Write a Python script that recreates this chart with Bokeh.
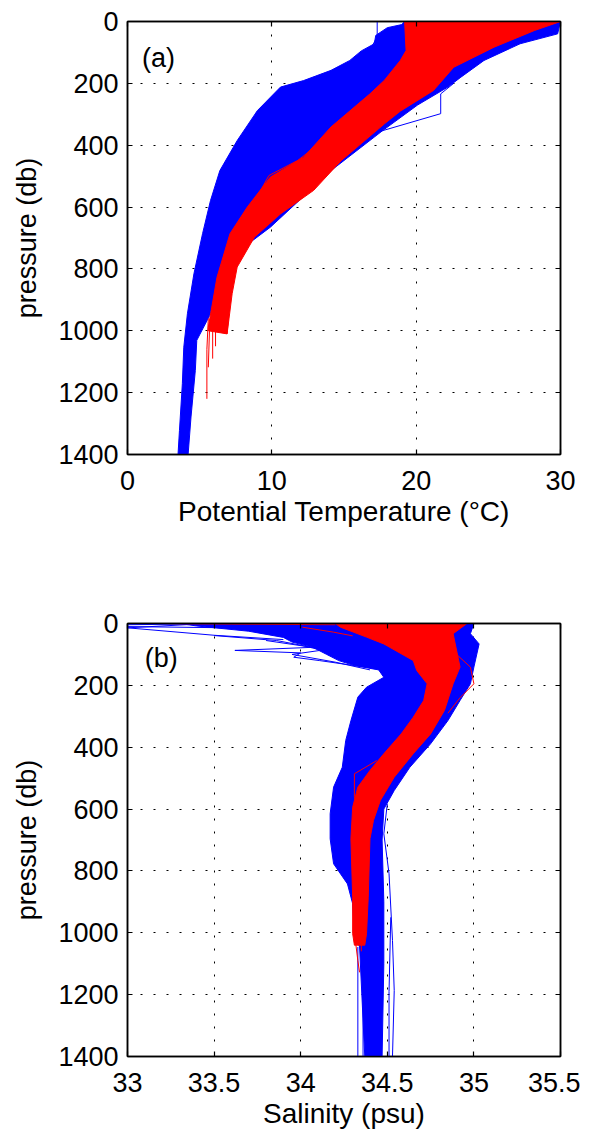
from bokeh.embed import file_html
from bokeh.resources import INLINE
from bokeh.layouts import column
from bokeh.models import Range1d, FixedTicker, LinearAxis, Label, CustomJSTickFormatter
from bokeh.plotting import figure

BLUE = "#0000ff"
RED = "#ff0000"
FONT = "Liberation Sans"

pressure_ticks = [0, 200, 400, 600, 800, 1000, 1200, 1400]
temp_ticks = [0, 10, 20, 30]
salt_ticks = [33, 33.5, 34, 34.5, 35, 35.5]

# ---- panel (a): potential temperature, envelopes of the profile bundles ----
blue_a_cold_t = [19.2, 19.0, 18.0, 17.2, 17.1, 16.2, 15.4, 14.1, 12.2, 10.6, 9.0, 7.6, 6.4, 5.75, 5.2, 4.6, 4.15, 3.9, 3.8, 3.6, 3.5]
blue_a_cold_p = [0, 10, 20, 45, 72, 95, 126, 158, 191, 212, 288, 385, 482, 579, 686, 816, 945, 1053, 1171, 1322, 1400]
blue_a_warm_t = [30.0, 29.8, 27.2, 24.7, 23.1, 22.2, 20.1, 17.7, 15.9, 14.1, 12.4, 9.9, 7.2, 6.3, 5.7, 4.8, 4.7, 4.4, 4.2]
blue_a_warm_p = [0, 40, 72, 126, 180, 212, 270, 352, 417, 482, 557, 665, 760, 850, 950, 1031, 1128, 1279, 1400]

red_a_cold_t = [19.2, 19.3, 18.9, 17.8, 16.8, 14.1, 12.2, 9.9, 8.3, 7.1, 6.2, 5.6, 5.6]
red_a_cold_p = [0, 94, 126, 190, 234, 341, 439, 503, 600, 686, 827, 988, 1000]
red_a_warm_t = [30.0, 28.2, 25.4, 22.6, 21.2, 18.9, 17.8, 14.8, 12.9, 10.6, 8.8, 7.6, 7.25, 6.9]
red_a_warm_p = [0, 29, 83, 148, 223, 290, 331, 450, 546, 622, 697, 794, 880, 1010]

# single profiles standing out of the bundles
blue_a_lines_t = [[17.3, 17.3, 17.0], [22.6, 21.7, 21.7, 17.3, 16.2]]
blue_a_lines_p = [[0, 50, 75], [200, 234, 298, 358, 400]]
red_a_lines_t = [[5.6, 5.5, 5.5], [5.7, 5.6], [5.9, 5.9], [6.1, 6.1], [7.1, 7.0, 6.9], [8.9, 9.8, 11.8, 12.6]]
red_a_lines_p = [[960, 1060, 1220], [970, 1118], [990, 1090], [990, 1050], [880, 950, 1010], [573, 498, 449, 420]]

# ---- panel (b): salinity ----
blue_b_fresh_s = [33.3, 33.4, 33.7, 33.9, 33.95, 34.07, 34.15, 34.22, 34.31, 34.45, 34.48, 34.38, 34.33, 34.29,
                  34.26, 34.24, 34.19, 34.17, 34.17, 34.19, 34.27, 34.30, 34.31, 34.34, 34.37]
blue_b_fresh_p = [0, 8, 25, 45, 60, 77, 100, 120, 136, 150, 174, 206, 238, 314,
                  378, 465, 529, 615, 696, 777, 842, 906, 1003, 1046, 1400]
blue_b_salty_s = [35.0, 34.98, 35.03, 35.0, 34.98, 34.92, 34.85, 34.75, 34.63, 34.54, 34.48, 34.47, 34.48, 34.48, 34.47]
blue_b_salty_p = [0, 33, 66, 141, 195, 249, 314, 389, 465, 540, 600, 700, 900, 1100, 1400]

red_b_fresh_s = [34.2, 34.23, 34.38, 34.48, 34.65, 34.67, 34.73, 34.71, 34.65, 34.58, 34.48, 34.40, 34.33, 34.30, 34.29, 34.30, 34.30, 34.31]
red_b_fresh_p = [0, 12, 44, 66, 120, 152, 195, 249, 303, 357, 421, 475, 529, 594, 696, 885, 1003, 1040]
red_b_salty_s = [34.96, 34.88, 34.92, 34.88, 34.83, 34.75, 34.65, 34.54, 34.46, 34.42, 34.40, 34.39, 34.38, 34.37]
red_b_salty_p = [0, 33, 141, 195, 281, 357, 421, 497, 572, 637, 696, 885, 1003, 1040]

blue_b_lines_s = [
    [33.6, 33.0, 33.0, 33.6],
    [33.4, 33.0, 33.5, 33.9],
    [34.07, 33.62, 34.0, 33.96, 34.11, 34.31, 34.46, 34.48],
    [33.8, 34.15, 33.95, 34.2, 34.4],
    [33.5, 33.86, 34.0, 34.3],
    [34.50, 34.48, 34.51, 34.53, 34.54, 34.53],
    [34.33, 34.33],
    [34.36, 34.36],
    [34.52, 34.51, 34.51],
]
blue_b_lines_p = [
    [0, 4, 10, 14],
    [2, 14, 38, 52],
    [77, 87, 95, 109, 120, 136, 147, 168],
    [55, 84, 100, 125, 150],
    [39, 55, 70, 110],
    [583, 680, 809, 1025, 1187, 1400],
    [1046, 1400],
    [1100, 1400],
    [950, 1190, 1400],
]
red_b_lines_s = [
    [33.17, 33.6, 34.2],
    [34.01, 34.19, 34.3],
    [34.9, 34.98, 35.0, 34.92, 34.85],
    [34.44, 34.31, 34.31, 34.33],
    [34.31, 34.33, 34.34],
    [34.35, 34.35],
]
red_b_lines_p = [
    [0, 2, 4],
    [12, 28, 40],
    [100, 141, 195, 240, 290],
    [443, 486, 560, 600],
    [1000, 1090, 1128],
    [1000, 1060],
]


def panel(x0, x1, xticks, xtitle, tag, tag_x, tag_y, top, bottom):
    p = figure(frame_width=433, frame_height=433,
               x_range=Range1d(x0, x1), y_range=Range1d(1400, 0),
               output_backend="svg", toolbar_location=None, tools="",
               min_border_left=127, min_border_right=20,
               min_border_top=top, min_border_bottom=bottom)
    p.add_layout(LinearAxis(), "right")
    p.add_layout(LinearAxis(), "above")
    for ax in p.xaxis:
        ax.ticker = FixedTicker(ticks=xticks)
    for ax in p.yaxis:
        ax.ticker = FixedTicker(ticks=pressure_ticks)
    for ax in p.axis:
        ax.major_tick_in = 5
        ax.major_tick_out = 0
        ax.minor_tick_line_color = None
        ax.axis_line_width = 1.5
        ax.axis_line_color = "black"
        ax.major_tick_line_color = "black"
        ax.major_tick_line_width = 1.2
        ax.major_label_text_font = FONT
        ax.major_label_text_font_size = "27px"
        ax.major_label_text_color = "black"
        ax.axis_label_text_font = FONT
        ax.axis_label_text_font_size = "27px"
        ax.axis_label_text_font_style = "normal"
        ax.axis_label_text_color = "black"
    # tick marks only on the top and right edges
    for ax in p.right + p.above:
        ax.formatter = CustomJSTickFormatter(code="return ''")
        ax.major_label_text_font_size = "1px"
        ax.major_label_standoff = 0

    bottom_ax = p.below[0]
    bottom_ax.formatter = CustomJSTickFormatter(code="return String(tick)")
    bottom_ax.major_label_standoff = 16
    bottom_ax.axis_label = xtitle
    bottom_ax.axis_label_standoff = 3
    bottom_ax.axis_label_text_font_size = "28px"
    left_ax = p.left[0]
    left_ax.major_label_standoff = 9
    left_ax.axis_label = "pressure (db)"
    left_ax.axis_label_standoff = 13

    p.xgrid.ticker = FixedTicker(ticks=xticks)
    p.ygrid.ticker = FixedTicker(ticks=pressure_ticks)
    for g in p.xgrid + p.ygrid:
        g.grid_line_color = "black"
        g.grid_line_dash = "2 11"
        g.grid_line_width = 1
    p.outline_line_color = "black"
    p.outline_line_width = 1.5
    p.background_fill_color = "white"
    p.border_fill_color = "white"
    p.add_layout(Label(x=tag_x, y=tag_y, text=tag, text_font=FONT, text_font_size="27px",
                       text_baseline="middle", text_align="left", text_color="black"))
    return p


def bundle(p, cold_x, cold_y, warm_x, warm_y, color):
    p.patch(cold_x + warm_x[::-1], cold_y + warm_y[::-1],
            fill_color=color, line_color=color, line_width=1)


p1 = panel(0, 30, temp_ticks, "Potential Temperature (°C)", "(a)", 1.0, 118, 21, 90)
bundle(p1, blue_a_cold_t, blue_a_cold_p, blue_a_warm_t, blue_a_warm_p, BLUE)
p1.multi_line(blue_a_lines_t, blue_a_lines_p, line_color=BLUE, line_width=1)
bundle(p1, red_a_cold_t, red_a_cold_p, red_a_warm_t, red_a_warm_p, RED)
p1.multi_line(red_a_lines_t, red_a_lines_p, line_color=RED, line_width=1)

p2 = panel(33, 35.5, salt_ticks, "Salinity (psu)", "(b)", 33.1, 113, 79, 72)
bundle(p2, blue_b_fresh_s, blue_b_fresh_p, blue_b_salty_s, blue_b_salty_p, BLUE)
p2.multi_line(blue_b_lines_s, blue_b_lines_p, line_color=BLUE, line_width=1)
bundle(p2, red_b_fresh_s, red_b_fresh_p, red_b_salty_s, red_b_salty_p, RED)
p2.multi_line(red_b_lines_s, red_b_lines_p, line_color=RED, line_width=1)

layout = column(p1, p2)
open("out.html", "w").write(file_html(layout, INLINE))
